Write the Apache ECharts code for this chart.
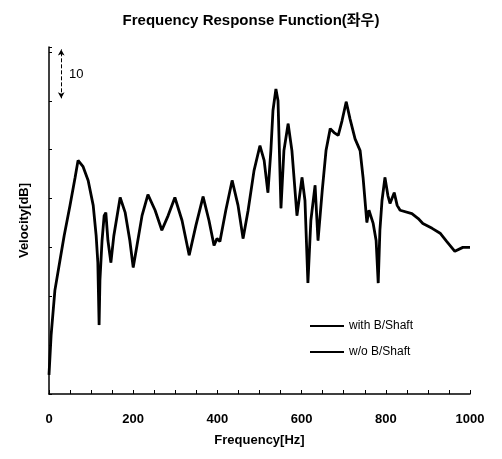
<!DOCTYPE html>
<html>
<head>
<meta charset="utf-8">
<script src="https://cdn.jsdelivr.net/npm/echarts@6/dist/echarts.min.js"></script>
<style>
  html, body { margin: 0; padding: 0; background: #fff; }
  #frfChart { width: 502px; height: 459px; }
</style>
</head>
<body>
<div id="frfChart"></div>
<script>
// frequency axis [Hz]
var freqHz = [0, 5, 14, 26, 36, 50, 62, 69, 81, 93, 105, 112, 116, 119, 121, 126, 131, 135, 140, 147, 154,
  169, 181, 192, 200, 209, 221, 235, 252, 268, 283, 299, 316, 333, 349, 366, 380, 392, 399, 406, 420,
  435, 449, 461, 473, 487, 501, 511, 520, 527, 532, 539, 544, 551, 558, 568, 577, 589, 601, 608, 615,
  622, 632, 639, 649, 658, 668, 677, 687, 696, 706, 715, 727, 739, 746, 755, 760, 770, 777, 782, 786,
  791, 798, 805, 810, 820, 827, 834, 862, 877, 888, 910, 929, 945, 964, 983, 1000]
// velocity [dB], no absolute scale in the picture (10 dB bar only)
var velWithShaft = [3.9, 12.0, 21.2, 27.3, 32.4, 38.6, 44.3, 47.8, 46.5, 43.7, 38.6, 32.4, 26.9, 14.1, 23.3,
  31.4, 36.5, 37.1, 31.4, 26.9, 32.4, 40.2, 37.1, 31.4, 25.9, 30.4, 36.5, 40.8, 37.6, 33.5, 36.5, 40.2,
  35.5, 28.4, 34.5, 40.4, 35.5, 30.4, 31.8, 31.2, 37.6, 43.7, 38.6, 31.8, 37.6, 45.7, 50.8, 47.8, 41.2,
  49.8, 58.0, 62.4, 60.0, 38.0, 49.8, 55.3, 49.8, 36.5, 44.3, 39.6, 22.7, 35.5, 42.7, 31.4, 41.6, 49.8,
  54.3, 53.5, 52.9, 55.9, 59.8, 56.3, 52.2, 49.8, 44.3, 35.1, 37.6, 34.9, 31.4, 22.7, 33.5, 39.6, 44.3,
  40.6, 39.0, 41.2, 38.6, 37.6, 36.9, 35.9, 34.9, 33.9, 32.9, 31.2, 29.2, 30.0, 30.0]
// both curves lie on top of each other in the scan
var velWithoutShaft = velWithShaft.slice()
var seriesNames = ['with B/Shaft', 'w/o B/Shaft']
var xTicks = [0, 200, 400, 600, 800, 1000]

function pairs (xs, ys) {
  return xs.map(function (x, i) { return [x, ys[i]] })
}

var frfChart = echarts.init(document.getElementById('frfChart'))
var fontFam = 'Liberation Sans, Arial, sans-serif'

var option = {
  animation: false,
  title: {
    text: 'Frequency Response Function(좌우)',
    left: 'center',
    top: 8,
    textStyle: { fontFamily: 'Liberation Sans, Noto Sans CJK KR, sans-serif', fontSize: 15, fontWeight: 'bold', color: '#000' }
  },
  grid: { left: 49, right: 32, top: 47, bottom: 65 },
  legend: {
    orient: 'vertical',
    left: 304,
    top: 315,
    itemWidth: 34,
    itemHeight: 10,
    itemGap: 14,
    itemStyle: { opacity: 0 },
    data: seriesNames,
    textStyle: { fontFamily: fontFam, fontSize: 12, color: '#000' }
  },
  xAxis: {
    type: 'value',
    min: 0,
    max: 1000,
    interval: 200,
    name: 'Frequency[Hz]',
    nameLocation: 'middle',
    nameGap: 40,
    nameTextStyle: { fontFamily: fontFam, fontSize: 13, fontWeight: 'bold', color: '#000' },
    axisLine: { lineStyle: { color: '#000', width: 1.5 } },
    axisTick: { inside: true, length: 4, lineStyle: { color: '#000' } },
    minorTick: { show: true, splitNumber: 4, length: 4, lineStyle: { color: '#000' } },
    splitLine: { show: false },
    axisLabel: {
      margin: 19,
      fontFamily: fontFam,
      fontSize: 13,
      fontWeight: 'bold',
      color: '#000',
      formatter: function (v) { return xTicks.indexOf(v) >= 0 ? String(v) : '' }
    }
  },
  yAxis: {
    type: 'value',
    min: 0,
    max: 71,
    interval: 10,
    name: 'Velocity[dB]',
    nameLocation: 'middle',
    nameGap: 18,
    nameTextStyle: { fontFamily: fontFam, fontSize: 13, fontWeight: 'bold', color: '#000' },
    axisLine: { show: true, lineStyle: { color: '#000', width: 1.5 } },
    axisTick: { show: true, inside: true, length: 3, lineStyle: { color: '#000' } },
    splitLine: { show: false },
    axisLabel: { show: false }
  },
  series: [
    {
      name: seriesNames[0],
      type: 'line',
      symbol: 'none',
      color: '#000',
      lineStyle: { color: '#000', width: 1 },
      data: pairs(freqHz, velWithShaft),
      // 10 dB scale bar
      markLine: {
        silent: true,
        symbol: ['arrow', 'arrow'],
        symbolSize: [5, 6],
        label: { show: false },
        lineStyle: { color: '#000', type: 'dashed', width: 1 },
        data: [[{ coord: [29, 60.5] }, { coord: [29, 70.5] }]]
      }
    },
    {
      name: seriesNames[1],
      type: 'line',
      symbol: 'none',
      color: '#000',
      lineStyle: { color: '#000', width: 2.8 },
      data: pairs(freqHz, velWithoutShaft)
    }
  ],
  graphic: [
    {
      type: 'text',
      left: 69,
      top: 68,
      style: { text: '10', fontFamily: fontFam, fontSize: 13, fill: '#000' }
    }
  ]
}
frfChart.setOption(option, true)
</script>
</body>
</html>
